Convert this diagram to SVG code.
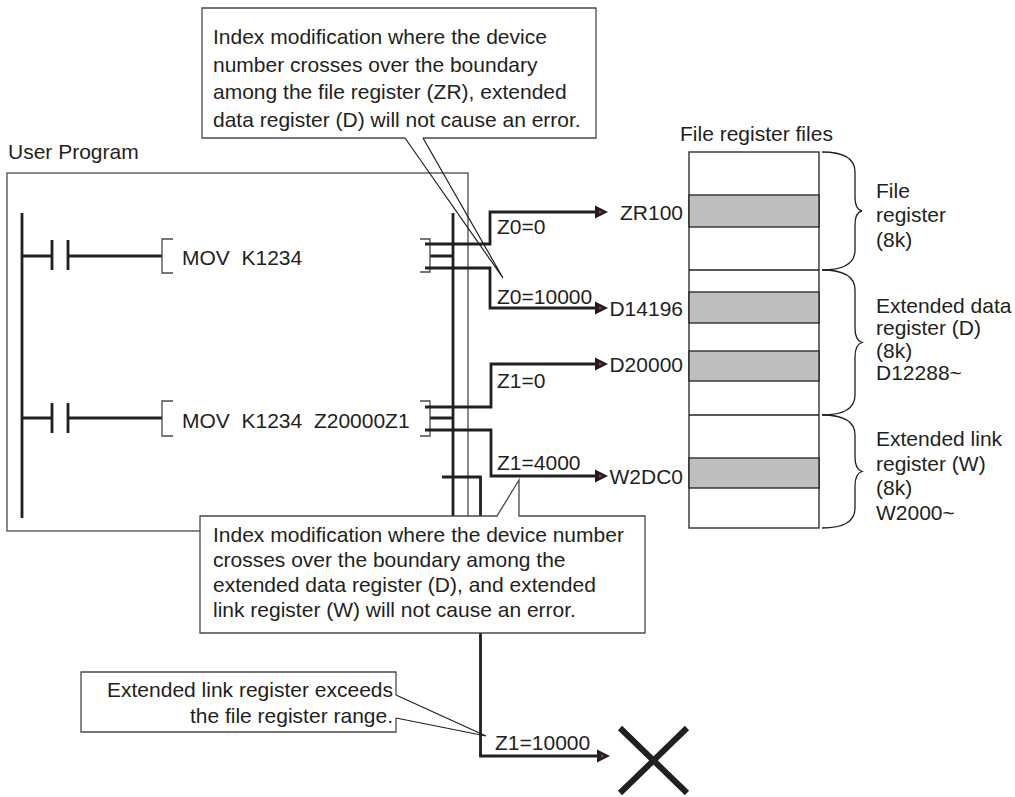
<svg xmlns="http://www.w3.org/2000/svg" width="1015" height="797" viewBox="0 0 1015 797">
<defs>
<style>
text { font-family: "Liberation Sans", Arial, sans-serif; font-size: 21px; fill: #231f20; }
.thin { fill: none; stroke: #4a4a4a; stroke-width: 1.3; }
.boxw { fill: #fff; stroke: #4a4a4a; stroke-width: 1.3; }
.thick { fill: none; stroke: #231f20; stroke-width: 2.8; }
.ptr { fill: none; stroke: #231f20; stroke-width: 1.2; }
.band { fill: #bcbec0; stroke: #231f20; stroke-width: 1.3; }
.brace { fill: none; stroke: #231f20; stroke-width: 1.3; }
.end { text-anchor: end; }
</style>
<marker id="arr" markerUnits="userSpaceOnUse" viewBox="0 0 13 14" refX="0" refY="7" markerWidth="13" markerHeight="14" orient="auto">
<path d="M0,0.5 L13,7 L0,13.5 Z" fill="#231f20"/>
<path d="M4,5.2 L7.5,7 L4,8.8 Z" fill="#e6007e"/>
</marker>
</defs>
<rect x="0" y="0" width="1015" height="797" fill="#fff"/>

<g id="callout-error">
<rect x="81" y="672" width="315" height="60" fill="#fff"/>
<path class="thin" d="M396,695 V672 H81 V732 H396 V718"/>
<path class="ptr" d="M396,695 L486,736 L396,718"/>
<text class="end" x="393" y="697">Extended link register exceeds</text>
<text class="end" x="393" y="723">the file register range.</text>
</g>

<g id="user-program">
<rect x="7" y="173" width="461" height="358" class="thin"/>
<text x="8" y="159">User Program</text>
</g>

<g id="ladder">
<path class="thick" d="M22,213 V518 M453,213 V525"/>
<g id="rung1">
<path class="thick" d="M22,256 H52 M52,240 V270 M68,240 V270 M68,256 H162 M430,256 H453"/>
<path class="thin" d="M173,239 H162 V273 H173 M420,239 H430 V272 H420"/>
<text x="182" y="265" xml:space="preserve">MOV  K1234</text>
</g>
<g id="rung2">
<path class="thick" d="M22,418 H52 M52,403 V433 M68,403 V433 M68,418 H162 M430,418 H453"/>
<path class="thin" d="M173,401 H162 V436 H173 M420,401 H430 V436 H420"/>
<text x="182" y="428" xml:space="preserve">MOV  K1234  Z20000Z1</text>
</g>
</g>

<g id="connectors">
<path class="thick" d="M425,244 H490 V212 H595" marker-end="url(#arr)"/>
<path class="thick" d="M425,268 H490 V308 H595" marker-end="url(#arr)"/>
<path class="thick" d="M425,407 H491 V364 H595" marker-end="url(#arr)"/>
<path class="thick" d="M425,430 H491 V476 H595" marker-end="url(#arr)"/>
<path class="thick" d="M442,477 H480.5 V756 H597" marker-end="url(#arr)"/>
<text x="497" y="234">Z0=0</text>
<text x="497" y="304">Z0=10000</text>
<text x="497" y="388">Z1=0</text>
<text x="497" y="470">Z1=4000</text>
<text x="495" y="750">Z1=10000</text>
</g>

<g id="error-mark">
<path d="M620,728 L687,793 M687,728 L620,793" stroke="#231f20" stroke-width="6" fill="none"/>
</g>

<g id="callout-top">
<rect x="202" y="8" width="394" height="130" fill="#fff"/>
<path class="thin" d="M405,138 H202 V8 H596 V138 H423"/>
<path class="ptr" d="M405,138 L503,278 L423,138"/>
<text x="213" y="44">Index modification where the device</text>
<text x="213" y="71.5">number crosses over the boundary</text>
<text x="213" y="99">among the file register (ZR), extended</text>
<text x="213" y="126.5">data register (D) will not cause an error.</text>
</g>

<g id="callout-bottom">
<path class="boxw" d="M200,516 H497 L519,480 V516 H645 V633 H200 Z"/>
<text x="213" y="541.5">Index modification where the device number</text>
<text x="213" y="566.5">crosses over the boundary among the</text>
<text x="213" y="591.5">extended data register (D), and extended</text>
<text x="213" y="616.5">link register (W) will not cause an error.</text>
</g>

<g id="file-register-files">
<text x="680" y="141">File register files</text>
<rect x="689" y="152" width="130" height="376" fill="#fff" stroke="#231f20" stroke-width="1.3"/>
<rect x="689" y="195" width="130" height="32" class="band"/>
<rect x="689" y="292" width="130" height="31" class="band"/>
<rect x="689" y="351" width="130" height="30" class="band"/>
<rect x="689" y="458" width="130" height="30" class="band"/>
<path d="M689,270 H819 M689,415 H819" stroke="#231f20" stroke-width="1.3"/>
<text class="end" x="683" y="220">ZR100</text>
<text class="end" x="683" y="316">D14196</text>
<text class="end" x="683" y="372">D20000</text>
<text class="end" x="683" y="484">W2DC0</text>
</g>

<g id="file-register">
<path class="brace" d="M822,152 C842,152 855,158 855,172 V197 C855,205 857,210 862,211 C857,212 855,217 855,225 V250 C855,264 842,270 822,270"/>
<text x="876" y="198">File</text>
<text x="876" y="222">register</text>
<text x="876" y="246.5">(8k)</text>
</g>

<g id="extended-data-register">
<path class="brace" d="M822,270 C842,270 855,276 855,290 V328 C855,336 857,341 862,342.5 C857,344 855,349 855,357 V395 C855,409 842,415 822,415"/>
<text x="876" y="313">Extended data</text>
<text x="876" y="335">register (D)</text>
<text x="876" y="358">(8k)</text>
<text x="876" y="380">D12288~</text>
</g>

<g id="extended-link-register">
<path class="brace" d="M822,415 C842,415 855,421 855,435 V457 C855,465 857,470 862,471.5 C857,473 855,478 855,486 V508 C855,522 842,528 822,528"/>
<text x="876" y="446">Extended link</text>
<text x="876" y="470.5">register (W)</text>
<text x="876" y="495">(8k)</text>
<text x="876" y="519.5">W2000~</text>
</g>
</svg>
